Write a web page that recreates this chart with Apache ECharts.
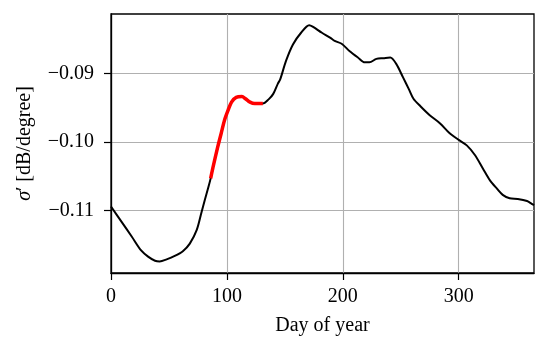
<!DOCTYPE html>
<html>
<head>
<meta charset="utf-8">
<script src="https://cdn.jsdelivr.net/npm/echarts@6/dist/echarts.min.js"></script>
<style>
html,body{margin:0;padding:0;background:#fff;}
#main{width:550px;height:344px;}
</style>
</head>
<body>
<div id="main"></div>
<script>
// Day of year and sigma' values (black full curve)
const days = [0, 9, 18, 26, 32, 38, 42, 48, 55, 62, 68, 74, 78, 81, 84, 86, 88, 92, 95, 98, 101, 104, 108, 113, 116, 120, 124, 131, 136, 140, 144, 146, 151, 157, 164, 171, 174, 182, 189, 193, 199, 206, 213, 219, 223, 229, 235, 241, 246, 252, 257, 261, 267, 275, 284, 292, 300, 307, 314, 321, 327, 333, 338, 344, 351, 359, 363, 365];
const values = [-0.1094, -0.1116, -0.1138, -0.1158, -0.1167, -0.1173, -0.1174, -0.1171, -0.1166, -0.1159, -0.1148, -0.1128, -0.1103, -0.1084, -0.1066, -0.1053, -0.1037, -0.1008, -0.0988, -0.0968, -0.0954, -0.0942, -0.0935, -0.0934, -0.0937, -0.0942, -0.0944, -0.0944, -0.0938, -0.0930, -0.0915, -0.0909, -0.0882, -0.0858, -0.0841, -0.0830, -0.0832, -0.0841, -0.0848, -0.0853, -0.0857, -0.0868, -0.0877, -0.0884, -0.0884, -0.0879, -0.0878, -0.0877, -0.0886, -0.0906, -0.0923, -0.0937, -0.0948, -0.0961, -0.0973, -0.0987, -0.0997, -0.1005, -0.1019, -0.1039, -0.1056, -0.1068, -0.1077, -0.1082, -0.1083, -0.1086, -0.1090, -0.1092];
// Highlighted (red) segment
const redDays = [86, 88, 92, 95, 98, 101, 104, 108, 113, 116, 120, 124, 131];
const redValues = [-0.1053, -0.1037, -0.1008, -0.0988, -0.0968, -0.0954, -0.0942, -0.0935, -0.0934, -0.0937, -0.0942, -0.0944, -0.0944];
const xTicks = [0, 100, 200, 300];
const yTicks = [-0.11, -0.10, -0.09];

const FONT = '"Liberation Serif", "DejaVu Serif", serif';
const chart = echarts.init(document.getElementById('main'), null, {renderer: 'canvas'});
chart.setOption({
  animation: false,
  backgroundColor: '#fff',
  grid: {left: 111, right: 16, top: 14, bottom: 71, show: true, borderColor: '#000', borderWidth: 1.3, containLabel: false},
  xAxis: {
    type: 'value', min: 0, max: 365,
    name: 'Day of year', nameLocation: 'middle', nameGap: 43,
    nameTextStyle: {fontFamily: FONT, fontSize: 20, color: '#000'},
    axisLine: {show: true, onZero: false, lineStyle: {color: '#000', width: 1.3}},
    axisTick: {show: true, inside: false, length: 7, customValues: xTicks, lineStyle: {color: '#000', width: 1.2}},
    axisLabel: {customValues: xTicks, margin: 14, fontFamily: FONT, fontSize: 20, color: '#000'},
    splitLine: {show: true, lineStyle: {color: '#b0b0b0', width: 1.1}}
  },
  yAxis: {
    type: 'value', min: -0.11908, max: -0.08137,
    name: '{i|σ}′ [dB/degree]', nameLocation: 'middle', nameGap: 76, nameRotate: 90,
    nameTextStyle: {fontFamily: FONT, fontSize: 20, color: '#000', rich: {i: {fontFamily: FONT, fontSize: 20, fontStyle: 'italic', color: '#000'}}},
    axisLine: {show: true, onZero: false, lineStyle: {color: '#000', width: 1.3}},
    axisTick: {show: true, inside: false, length: 7, customValues: yTicks, lineStyle: {color: '#000', width: 1.2}},
    axisLabel: {customValues: yTicks, margin: 17, fontFamily: FONT, fontSize: 20, color: '#000',
      formatter: v => (v < 0 ? '\u2212' : '') + Math.abs(v).toFixed(2)},
    splitLine: {show: true, lineStyle: {color: '#b0b0b0', width: 1.1}}
  },
  series: [
    {type: 'line', data: days.map((d, i) => [d, values[i]]), showSymbol: false, smooth: 0.3,
     lineStyle: {color: '#000', width: 2}, z: 2},
    {type: 'line', data: redDays.map((d, i) => [d, redValues[i]]), showSymbol: false, smooth: 0.3,
     lineStyle: {color: '#ff0000', width: 3.5}, z: 3}
  ]
});
</script>
</body>
</html>
